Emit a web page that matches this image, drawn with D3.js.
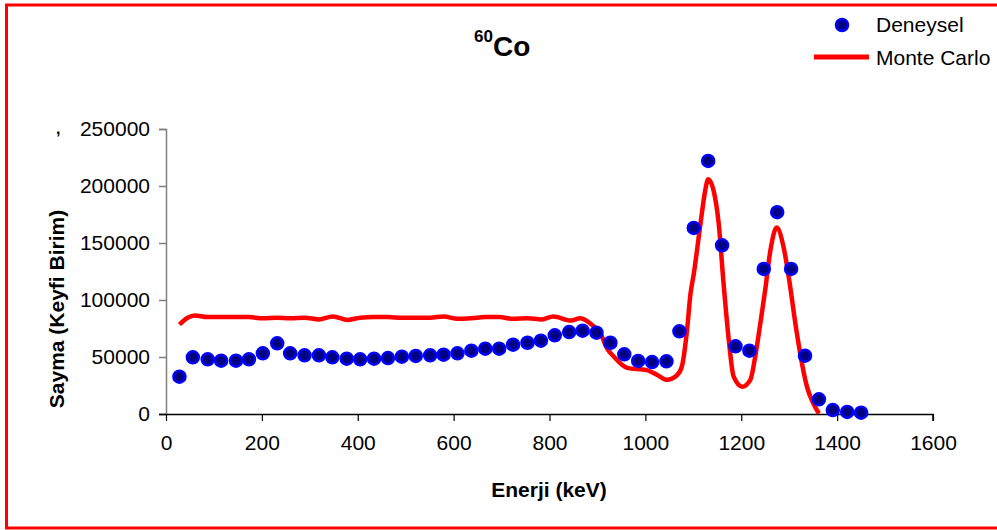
<!DOCTYPE html>
<html lang="tr">
<head>
<meta charset="utf-8">
<script src="https://d3js.org/d3.v7.min.js"></script>
<title>60Co</title>
<style>
  body { margin: 0; background: #fff; }
  text { font-family: "Liberation Sans", Arial, sans-serif; fill: #000; }
</style>
</head>
<body>
<div id="container"></div>
<script>
// Deneysel (experimental) points
var expEnergy = [28, 56, 87, 115, 146, 173, 202, 232, 259, 289, 319, 347, 377, 405, 434, 463, 492, 521, 551, 579,
                 608, 637, 666, 695, 724, 754, 782, 811, 841, 869, 898, 927, 956, 985, 1014, 1044, 1071, 1101, 1131, 1160,
                 1188, 1217, 1247, 1275, 1304, 1333, 1362, 1391, 1421, 1450];
var expCounts = [32700, 49700, 48000, 46800, 46800, 48000, 53200, 62000, 53200, 51500, 51500, 49700, 48500, 48000, 48500, 49100, 50300, 50900, 51500, 52000,
                 53200, 55500, 57300, 57300, 60800, 62500, 64300, 69000, 71900, 73100, 71300, 62500, 52400, 46500, 45600, 46200, 72500, 163200, 222000, 148000,
                 59400, 55500, 127200, 177000, 127200, 51100, 12900, 3500, 1800, 1100];

// Monte Carlo curve
var mcEnergy = [28, 45, 60, 86, 115, 146, 173, 202, 232, 259, 289, 319, 348, 379, 405, 434, 463, 492, 521, 551,
                579, 608, 637, 666, 695, 724, 754, 784, 808, 845, 864, 892, 906, 920, 934, 962, 1003, 1024, 1045, 1066,
                1076, 1087, 1094, 1101, 1115, 1125, 1131, 1142, 1153, 1163, 1174, 1184, 1202, 1219, 1229, 1240, 1250, 1261, 1274, 1288,
                1302, 1312, 1323, 1337, 1350, 1362];
var mcCounts = [78500, 84500, 86500, 85000, 85000, 85000, 85000, 84000, 84500, 84000, 84500, 83000, 85500, 82500, 84500, 85000, 85000, 84500, 84500, 84500,
                85500, 83500, 84000, 85000, 85000, 83500, 84000, 83000, 85500, 82000, 84000, 77000, 71000, 57500, 50500, 40500, 38500, 34500, 30000, 34000,
                41500, 74000, 105000, 123000, 167000, 196500, 206000, 196500, 167000, 115000, 65000, 33000, 24000, 30000, 50000, 80000, 109000, 144000, 163500, 147000,
                112000, 82000, 53000, 24000, 9500, 500];

var xTicks = [0, 200, 400, 600, 800, 1000, 1200, 1400, 1600];
var yTicks = [0, 50000, 100000, 150000, 200000, 250000];

var width = 997, height = 530;
var svg = d3.select("#container").append("svg")
    .attr("width", width)
    .attr("height", height);

// frame
svg.append("rect")
    .attr("x", 6.5).attr("y", 5)
    .attr("width", 1000).attr("height", 523)
    .attr("fill", "none")
    .attr("stroke", "#ff0000")
    .attr("stroke-width", 3);

var x = d3.scaleLinear().domain([0, 1600]).range([166, 933]);
var y = d3.scaleLinear().domain([0, 250000]).range([414, 129]);

// y axis (grey)
var yAxis = svg.append("g")
    .attr("transform", "translate(166,0)")
    .call(d3.axisLeft(y).tickValues(yTicks).tickSize(7).tickPadding(9).tickFormat(d3.format("d")));
yAxis.select(".domain").attr("stroke", "#808080").attr("stroke-width", 1.5);
yAxis.selectAll(".tick line").attr("stroke", "#808080").attr("stroke-width", 1.5);
yAxis.selectAll(".tick text").style("font-size", "21px").attr("fill", "#000");

// x axis (black)
var xAxis = svg.append("g")
    .attr("transform", "translate(0,414)")
    .call(d3.axisBottom(x).tickValues(xTicks).tickSize(7).tickPadding(14).tickFormat(d3.format("d")));
xAxis.select(".domain").attr("stroke", "#000").attr("stroke-width", 1.5)
    .attr("d", "M159,0.5H" + x(1600) + "V7");
xAxis.selectAll(".tick line").attr("stroke", "#000").attr("stroke-width", 1.2);
xAxis.selectAll(".tick text").style("font-size", "21px").attr("fill", "#000");

// Monte Carlo line
var line = d3.line()
    .x(function(d, i) { return x(mcEnergy[i]); })
    .y(function(d) { return y(d); })
    .curve(d3.curveMonotoneX);
svg.append("path")
    .datum(mcCounts)
    .attr("d", line)
    .attr("fill", "none")
    .attr("stroke", "#ff0000")
    .attr("stroke-width", 4.5)
    .attr("stroke-linejoin", "round");

// experimental points
svg.append("g").selectAll("circle")
    .data(expCounts)
    .enter().append("circle")
    .attr("cx", function(d, i) { return x(expEnergy[i]); })
    .attr("cy", function(d) { return y(d); })
    .attr("r", 6)
    .attr("fill", "#000080")
    .attr("stroke", "#0000ff")
    .attr("stroke-width", 2.5);

// title
var title = svg.append("text")
    .attr("x", 474).attr("y", 56)
    .style("font-weight", "bold");
title.append("tspan").attr("dy", -14).style("font-size", "17px").text("60");
title.append("tspan").attr("dy", 14).style("font-size", "28px").text("Co");

// axis titles
svg.append("text")
    .attr("x", 549).attr("y", 497)
    .attr("text-anchor", "middle")
    .style("font-size", "21px").style("font-weight", "bold")
    .text("Enerji (keV)");
svg.append("text")
    .attr("transform", "translate(64,309) rotate(-90)")
    .attr("text-anchor", "middle")
    .style("font-size", "21px").style("font-weight", "bold")
    .text("Sayma (Keyfi Birim)");
svg.append("text")
    .attr("x", 56).attr("y", 134)
    .style("font-size", "16px").style("font-weight", "bold")
    .text(",");

// legend
svg.append("circle")
    .attr("cx", 842).attr("cy", 25).attr("r", 6)
    .attr("fill", "#000080").attr("stroke", "#0000ff").attr("stroke-width", 2.5);
svg.append("text")
    .attr("x", 876).attr("y", 32)
    .style("font-size", "21px")
    .text("Deneysel");
svg.append("line")
    .attr("x1", 814).attr("x2", 869).attr("y1", 57).attr("y2", 57)
    .attr("stroke", "#ff0000").attr("stroke-width", 5);
svg.append("text")
    .attr("x", 876).attr("y", 65)
    .style("font-size", "21px")
    .text("Monte Carlo");
</script>
</body>
</html>
